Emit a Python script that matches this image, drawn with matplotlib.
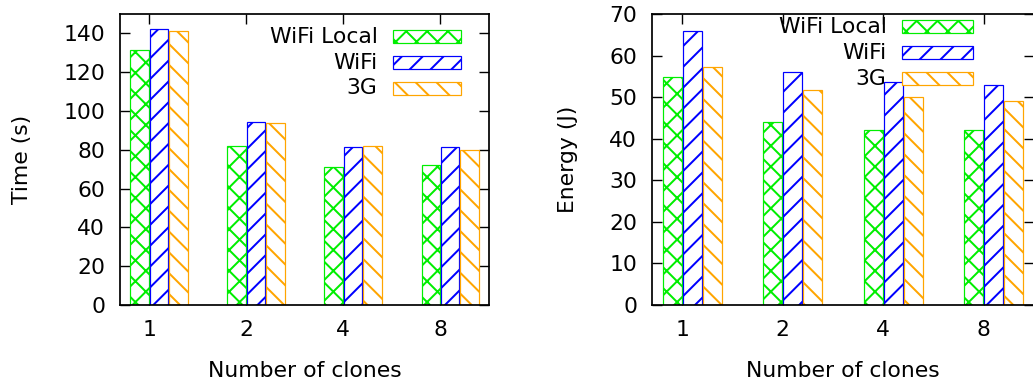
import numpy as np
import matplotlib
matplotlib.use('Agg')
import matplotlib.pyplot as plt
from matplotlib.patches import Rectangle

# data
clones = ['1', '2', '4', '8']
series = ['WiFi Local', 'WiFi', '3G']
time_wifi_local = [131.4, 82.0, 71.1, 72.2]
time_wifi = [142.3, 94.2, 81.6, 81.3]
time_3g = [141.1, 93.6, 82.0, 79.9]
energy_wifi_local = [54.8, 43.9, 42.0, 42.0]
energy_wifi = [65.8, 56.0, 53.6, 52.8]
energy_3g = [57.3, 51.6, 50.1, 49.0]

colors = ['#00ee00', '#0000ff', '#ffa500']
hatches = ['xx', '//', '\\\\']

# dpi 125 so the hatch spacing is close to the gnuplot one
DPI = 125
plt.rcParams['font.family'] = ['DejaVu Sans']
plt.rcParams['hatch.linewidth'] = 1.15

fig = plt.figure(figsize=(1033 / DPI, 382 / DPI), dpi=DPI)
ax1 = fig.add_axes([0.1162, 0.2016, 0.3572, 0.7618])
ax2 = fig.add_axes([0.6312, 0.2016, 0.3698, 0.7618])

FS = 12.6

def draw_panel(ax, values, ymax, ystep, ylabel, leg_x, leg_y):
    x = np.arange(len(clones))
    width = 0.19
    offsets = [-0.1, 0.1, 0.3]
    for vals, off, c, h in zip(values, offsets, colors, hatches):
        ax.bar(x + off, vals, width, facecolor='white', edgecolor=c,
               hatch=h, linewidth=0.7, zorder=2)
    ax.set_xlim(-0.3, 3.5)
    ax.set_ylim(0, ymax)
    ax.set_xticks(x)
    ax.set_xticklabels(clones)
    ax.set_yticks(np.arange(0, ymax + 1, ystep))
    ax.tick_params(direction='in', length=5.8, width=0.8, top=True, right=True,
                   labelsize=FS, pad=8.5)
    ax.tick_params(axis='y', pad=8.5)
    for s in ax.spines.values():
        s.set_linewidth(1.0)
    ax.set_xlabel('Number of clones', fontsize=FS, labelpad=12)
    ax.set_ylabel(ylabel, fontsize=FS, labelpad=18)

    # gnuplot style key: text right aligned, sample box on the right
    for i, (name, c, h) in enumerate(zip(series, colors, hatches)):
        y = leg_y - i * 0.089
        ax.text(leg_x, y, name, transform=ax.transAxes, ha='right',
                va='center', fontsize=FS, zorder=5)
        ax.add_patch(Rectangle((leg_x + 0.041, y - 0.0225), 0.185, 0.045,
                               transform=ax.transAxes, facecolor='white',
                               edgecolor=c, hatch=h, linewidth=0.7,
                               zorder=4, clip_on=False))

draw_panel(ax1, [time_wifi_local, time_wifi, time_3g], 150, 20,
           'Time (s)', 0.698, 0.922)
draw_panel(ax2, [energy_wifi_local, energy_wifi, energy_3g], 70, 10,
           'Energy (J)', 0.614, 0.956)

fig.savefig('out.png', dpi=DPI)
